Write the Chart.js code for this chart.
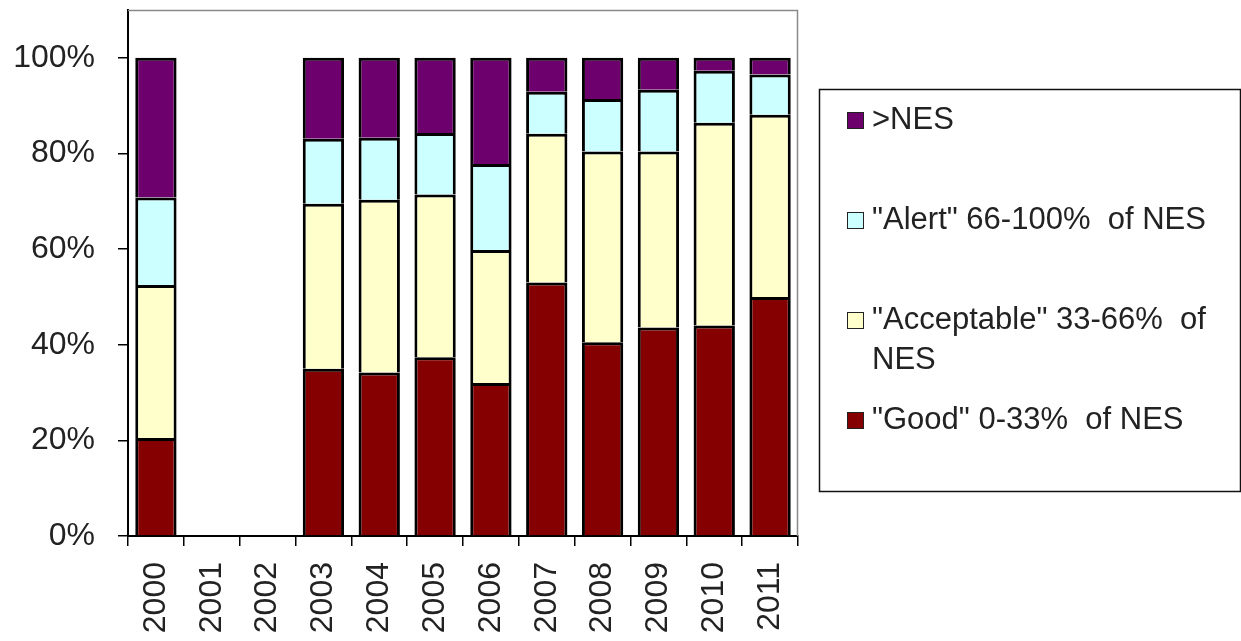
<!DOCTYPE html>
<html>
<head>
<meta charset="utf-8">
<script src="https://cdn.jsdelivr.net/npm/chart.js@4"></script>
<style>
  html, body { margin: 0; padding: 0; background: #ffffff; }
  #wrap { width: 1241px; height: 641px; position: relative; }
</style>
</head>
<body>
<div id="wrap"><canvas id="c" width="1241" height="641"></canvas></div>
<script>
// Share of samples in each NES band per year (percent of total)
const years = ['2000', '2001', '2002', '2003', '2004', '2005', '2006', '2007', '2008', '2009', '2010', '2011'];
const good       = [20.5, null, null, 35.0, 34.2, 37.4, 32.0, 53.0, 40.5, 43.6, 44.0, 50.0];
const acceptable = [32.0, null, null, 34.5, 36.1, 34.0, 27.8, 31.1, 39.9, 36.8, 42.4, 38.1];
const alertBand  = [18.3, null, null, 13.6, 13.0, 12.9, 18.0,  8.8, 11.0, 12.9, 10.9,  8.4];
const overNes    = [29.2, null, null, 16.9, 16.7, 15.7, 22.2,  7.1,  8.6,  6.7,  2.7,  3.5];
const yTicks = [0, 20, 40, 60, 80, 100];

const FONT = '"Liberation Sans", Arial, sans-serif';
const TEXT = '#222222';

// Legend entries, listed top to bottom; multi-line labels are arrays
const legendItems = [
  { ds: 3, lines: ['>NES'] },
  { ds: 2, lines: ['"Alert" 66-100%  of NES'] },
  { ds: 1, lines: ['"Acceptable" 33-66%  of', 'NES'] },
  { ds: 0, lines: ['"Good" 0-33%  of NES'] }
];

const boxLegend = {
  id: 'boxLegend',
  afterDraw(chart) {
    const ctx = chart.ctx;
    ctx.save();
    // legend frame
    ctx.strokeStyle = '#111111';
    ctx.lineWidth = 1.5;
    ctx.strokeRect(819.5, 89.5, 421, 402);
    ctx.font = '31px ' + FONT;
    ctx.textBaseline = 'middle';
    ctx.fillStyle = TEXT;
    const rowY = [120, 220, 320, 420];
    legendItems.forEach((it, i) => {
      const ds = chart.data.datasets[it.ds];
      const y = rowY[i];
      ctx.fillStyle = ds.backgroundColor;
      ctx.fillRect(847, y - 8, 17, 17);
      ctx.strokeStyle = '#222222';
      ctx.lineWidth = 1;
      ctx.strokeRect(847.5, y - 7.5, 16, 16);
      ctx.fillStyle = TEXT;
      it.lines.forEach((ln, k) => ctx.fillText(ln, 872, y + k * 40));
    });
    ctx.restore();
  }
};

const plotFrame = {
  id: 'plotFrame',
  beforeDatasetsDraw(chart) {
    const { ctx, chartArea: a } = chart;
    ctx.save();
    ctx.strokeStyle = '#8a8a8a';
    ctx.lineWidth = 1.5;
    ctx.beginPath();
    ctx.moveTo(a.left, a.top + 0.5);
    ctx.lineTo(a.right - 0.5, a.top + 0.5);
    ctx.lineTo(a.right - 0.5, a.bottom);
    ctx.stroke();
    ctx.restore();
  }
};

const whiteBg = {
  id: 'whiteBg',
  beforeDraw(chart) {
    const ctx = chart.ctx;
    ctx.save();
    ctx.fillStyle = '#ffffff';
    ctx.fillRect(0, 0, chart.width, chart.height);
    ctx.restore();
  }
};

function band(label, data, color) {
  return {
    label, data,
    backgroundColor: color,
    borderColor: '#000000',
    borderWidth: 3,
    barPercentage: 1.0,
    categoryPercentage: 0.74
  };
}

new Chart(document.getElementById('c'), {
  type: 'bar',
  data: {
    labels: years,
    datasets: [
      band('"Good" 0-33% of NES', good, '#850000'),
      band('"Acceptable" 33-66% of NES', acceptable, '#ffffcc'),
      band('"Alert" 66-100% of NES', alertBand, '#ccffff'),
      band('>NES', overNes, '#6e006e')
    ]
  },
  options: {
    responsive: false,
    animation: false,
    layout: { padding: { left: 0, top: 10, right: 443, bottom: 0 } },
    plugins: {
      legend: { display: false },
      tooltip: { enabled: false }
    },
    scales: {
      x: {
        stacked: true,
        afterFit(s) { s.height = 105; s.paddingLeft = 0; s.paddingRight = 0; },
        grid: {
          offset: true,
          drawOnChartArea: false,
          drawTicks: true,
          tickLength: 10,
          color: '#000000',
          lineWidth: 1.5
        },
        border: { display: true, color: '#000000', width: 2 },
        ticks: {
          minRotation: 90,
          maxRotation: 90,
          autoSkip: false,
          padding: 16,
          color: TEXT,
          font: { family: FONT, size: 32 }
        }
      },
      y: {
        stacked: true,
        min: 0,
        max: 110,
        afterFit(s) { s.width = 128; s.paddingTop = 0; s.paddingBottom = 0; },
        afterBuildTicks(s) { s.ticks = yTicks.map(v => ({ value: v })); },
        grid: {
          drawOnChartArea: false,
          drawTicks: true,
          tickLength: 10,
          color: '#000000',
          lineWidth: 1.5
        },
        border: { display: true, color: '#000000', width: 2 },
        ticks: {
          padding: 23,
          color: TEXT,
          font: { family: FONT, size: 32 },
          callback: v => v + '%'
        }
      }
    }
  },
  plugins: [whiteBg, plotFrame, boxLegend]
});
</script>
</body>
</html>
